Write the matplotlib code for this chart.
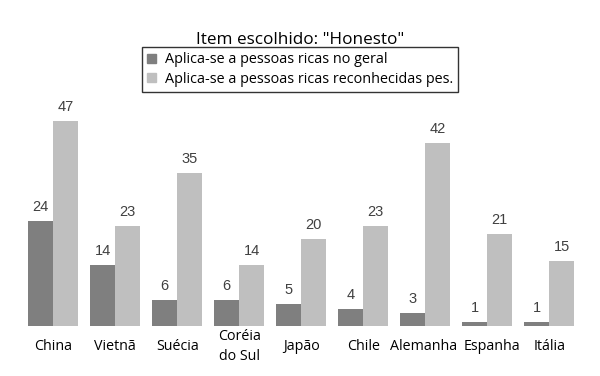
import numpy as np
import matplotlib.pyplot as plt
import matplotlib.transforms as mtransforms
from matplotlib.patches import Patch

# Data
countries = ["China", "Vietnã", "Suécia", "Coréia\ndo Sul", "Japão", "Chile",
             "Alemanha", "Espanha", "Itália"]
geral = [24, 14, 6, 6, 5, 4, 3, 1, 1]
reconhecidas = [47, 23, 35, 14, 20, 23, 42, 21, 15]
series_names = ["Aplica-se a pessoas ricas no geral",
                "Aplica-se a pessoas ricas reconhecidas pes."]

DARK = "#7f7f7f"
LIGHT = "#bfbfbf"

plt.rcParams['font.family'] = ['Open Sans', 'DejaVu Sans']

fig = plt.figure(figsize=(6, 3.76), dpi=100)
ax = fig.add_axes([0.037, 0.133, 0.93, 0.603])

x = np.arange(len(countries))
w = 0.4
b1 = ax.bar(x - w / 2, geral, width=w, color=DARK)
b2 = ax.bar(x + w / 2, reconhecidas, width=w, color=LIGHT)

for bars, vals in [(b1, geral), (b2, reconhecidas)]:
    for rect, v in zip(bars, vals):
        ax.annotate(str(v), (rect.get_x() + rect.get_width() / 2, v),
                    xytext=(0, 5), textcoords="offset points",
                    ha="center", va="bottom", fontsize=10.5,
                    color="#404040", family="Liberation Sans")

ax.set_xlim(-0.5, len(countries) - 0.5)
ax.set_ylim(0, 52)
ax.set_xticks(x)
ax.set_xticklabels(countries, fontsize=10.3, va="center", linespacing=1.45)
ax.tick_params(axis="x", length=0, pad=15)
ax.set_yticks([])
for s in ax.spines.values():
    s.set_visible(False)

# nudge the crowded labels apart a little, as in the original
nudge = {"Alemanha": -2, "Espanha": 5}
for lbl in ax.get_xticklabels():
    dx = nudge.get(lbl.get_text(), 0)
    if dx:
        lbl.set_transform(lbl.get_transform() +
                          mtransforms.ScaledTranslation(dx / 100, 0, fig.dpi_scale_trans))

fig.text(0.5, 0.893, 'Item escolhido: "Honesto"', ha="center", va="center",
         fontsize=12.3)

handles = [Patch(color=DARK), Patch(color=LIGHT)]
leg = fig.legend(handles, series_names, loc="center", bbox_to_anchor=(0.5, 0.815),
                 fontsize=10.4, frameon=True, fancybox=False, handlelength=0.6,
                 handleheight=0.6, handletextpad=0.6, borderpad=0.35,
                 labelspacing=0.3, borderaxespad=0)
leg.get_frame().set_edgecolor("black")
leg.get_frame().set_linewidth(1.0)

fig.savefig("out.png", dpi=100)
